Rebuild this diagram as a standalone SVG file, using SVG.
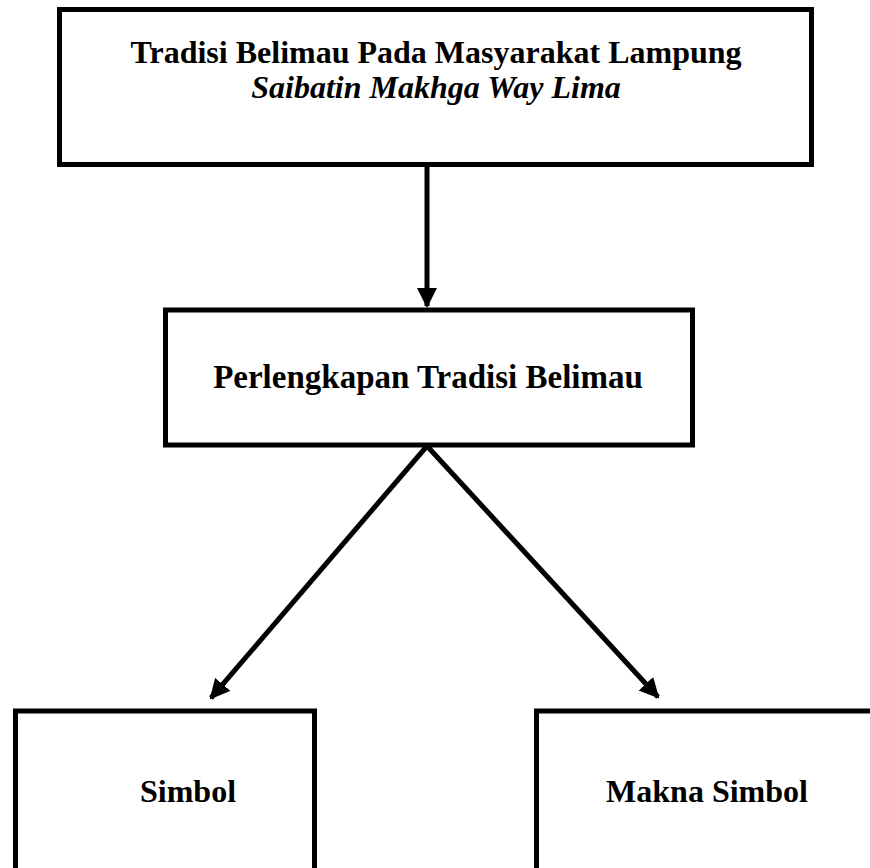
<svg xmlns="http://www.w3.org/2000/svg" width="870" height="868" viewBox="0 0 870 868">
<style>
.box{fill:#fff;stroke:#000;stroke-width:5}
.t{font-family:"Liberation Serif","Times New Roman",serif;font-size:32px;font-weight:bold;fill:#000;text-anchor:middle}
.i{font-style:italic}
.c{stroke:#000;stroke-width:5;fill:none}
</style>
<defs>
<marker id="ah" viewBox="0 0 10 10" refX="9" refY="5" markerWidth="4" markerHeight="4" orient="auto" markerUnits="strokeWidth">
<path d="M0,0 L10,5 L0,10 z" fill="#000"/>
</marker>
</defs>
<rect width="870" height="868" fill="#fff"/>
<g id="connectors">
<line class="c" x1="427" y1="166" x2="427" y2="306" marker-end="url(#ah)"/>
<line class="c" x1="427" y1="446" x2="211" y2="698" marker-end="url(#ah)"/>
<line class="c" x1="427" y1="446" x2="658" y2="697" marker-end="url(#ah)"/>
</g>
<g id="node-top">
<rect class="box" x="59.5" y="9.5" width="752" height="155"/>
<text class="t" x="436" y="63">Tradisi Belimau Pada Masyarakat Lampung</text>
<text class="t i" x="436" y="98">Saibatin Makhga Way Lima</text>
</g>
<g id="node-middle">
<rect class="box" x="165.5" y="310" width="527" height="135"/>
<text class="t" x="428" y="388" style="font-size:33px">Perlengkapan Tradisi Belimau</text>
</g>
<g id="node-simbol">
<rect class="box" x="15.5" y="711" width="299" height="180"/>
<text class="t" x="188" y="802">Simbol</text>
</g>
<g id="node-makna">
<rect class="box" x="536.5" y="711" width="340" height="180"/>
<text class="t" x="707" y="802">Makna Simbol</text>
</g>
</svg>
